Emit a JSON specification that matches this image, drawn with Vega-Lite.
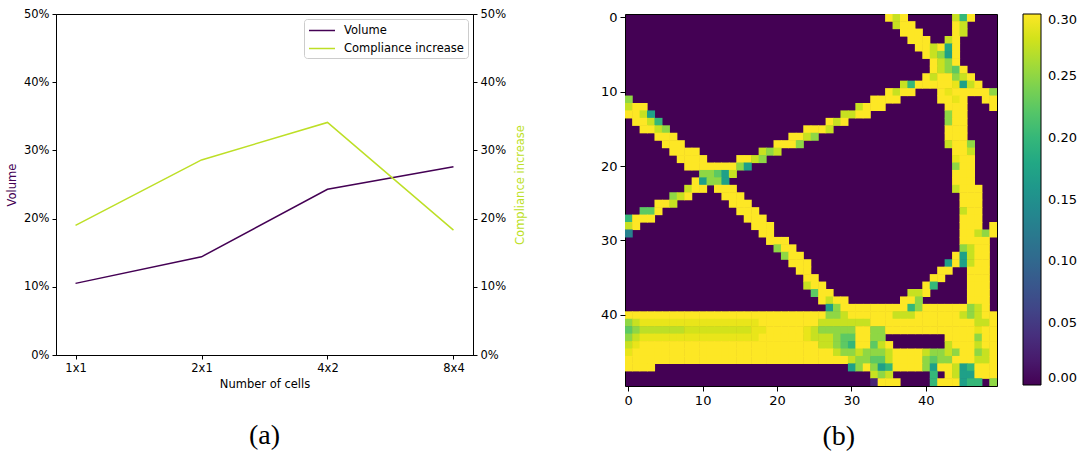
{
"$schema":"https://vega.github.io/schema/vega-lite/v6.json",
"background":"white",
"padding":{"left":5,"top":7,"right":5,"bottom":5},
"config":{"font":"DejaVu Sans","axis":{"grid":false,"domainColor":"#000","tickColor":"#000","labelColor":"#000","titleColor":"#000","titleFontWeight":"normal"},"legend":{"labelColor":"#000"}},
"datasets":{
"lines":[{"cells":"1x1","volume":0.105,"compliance":0.19},{"cells":"2x1","volume":0.144,"compliance":0.286},{"cells":"4x2","volume":0.243,"compliance":0.341},{"cells":"8x4","volume":0.276,"compliance":0.183}],
"cells":[
{"c":35,"r":0,"v":0.3},{"c":36,"r":0,"v":0.275},{"c":37,"r":0,"v":0.3},{"c":44,"r":0,"v":0.275},{"c":45,"r":0,"v":0.2},{"c":46,"r":0,"v":0.3},
{"c":36,"r":1,"v":0.275},{"c":37,"r":1,"v":0.3},{"c":38,"r":1,"v":0.3},{"c":44,"r":1,"v":0.3},{"c":45,"r":1,"v":0.275},
{"c":37,"r":2,"v":0.3},{"c":38,"r":2,"v":0.3},{"c":39,"r":2,"v":0.3},{"c":44,"r":2,"v":0.3},{"c":45,"r":2,"v":0.275},
{"c":38,"r":3,"v":0.3},{"c":39,"r":3,"v":0.3},{"c":40,"r":3,"v":0.3},{"c":43,"r":3,"v":0.275},{"c":44,"r":3,"v":0.3},
{"c":39,"r":4,"v":0.3},{"c":40,"r":4,"v":0.3},{"c":41,"r":4,"v":0.275},{"c":42,"r":4,"v":0.3},{"c":43,"r":4,"v":0.18},{"c":44,"r":4,"v":0.3},
{"c":40,"r":5,"v":0.3},{"c":41,"r":5,"v":0.275},{"c":42,"r":5,"v":0.25},{"c":43,"r":5,"v":0.17},{"c":44,"r":5,"v":0.3},
{"c":41,"r":6,"v":0.3},{"c":42,"r":6,"v":0.275},{"c":43,"r":6,"v":0.25},{"c":44,"r":6,"v":0.3},
{"c":41,"r":7,"v":0.3},{"c":42,"r":7,"v":0.275},{"c":43,"r":7,"v":0.25},{"c":44,"r":7,"v":0.225},{"c":45,"r":7,"v":0.3},
{"c":40,"r":8,"v":0.3},{"c":41,"r":8,"v":0.275},{"c":42,"r":8,"v":0.3},{"c":43,"r":8,"v":0.3},{"c":44,"r":8,"v":0.25},{"c":45,"r":8,"v":0.275},{"c":46,"r":8,"v":0.3},
{"c":37,"r":9,"v":0.275},{"c":38,"r":9,"v":0.2},{"c":39,"r":9,"v":0.3},{"c":40,"r":9,"v":0.3},{"c":41,"r":9,"v":0.3},{"c":42,"r":9,"v":0.3},{"c":43,"r":9,"v":0.3},{"c":44,"r":9,"v":0.29},{"c":45,"r":9,"v":0.17},{"c":46,"r":9,"v":0.275},{"c":47,"r":9,"v":0.3},
{"c":35,"r":10,"v":0.3},{"c":36,"r":10,"v":0.275},{"c":37,"r":10,"v":0.3},{"c":38,"r":10,"v":0.3},{"c":42,"r":10,"v":0.3},{"c":43,"r":10,"v":0.29},{"c":44,"r":10,"v":0.3},{"c":45,"r":10,"v":0.3},{"c":46,"r":10,"v":0.3},{"c":47,"r":10,"v":0.3},{"c":48,"r":10,"v":0.3},{"c":49,"r":10,"v":0.25},
{"c":0,"r":11,"v":0.25},{"c":33,"r":11,"v":0.3},{"c":34,"r":11,"v":0.3},{"c":35,"r":11,"v":0.3},{"c":36,"r":11,"v":0.3},{"c":42,"r":11,"v":0.3},{"c":43,"r":11,"v":0.3},{"c":44,"r":11,"v":0.29},{"c":45,"r":11,"v":0.3},{"c":48,"r":11,"v":0.3},{"c":49,"r":11,"v":0.3},
{"c":0,"r":12,"v":0.275},{"c":1,"r":12,"v":0.3},{"c":2,"r":12,"v":0.3},{"c":31,"r":12,"v":0.275},{"c":32,"r":12,"v":0.3},{"c":33,"r":12,"v":0.3},{"c":34,"r":12,"v":0.3},{"c":43,"r":12,"v":0.3},{"c":44,"r":12,"v":0.3},{"c":45,"r":12,"v":0.3},{"c":49,"r":12,"v":0.3},
{"c":0,"r":13,"v":0.3},{"c":1,"r":13,"v":0.3},{"c":2,"r":13,"v":0.275},{"c":3,"r":13,"v":0.17},{"c":29,"r":13,"v":0.275},{"c":30,"r":13,"v":0.275},{"c":31,"r":13,"v":0.3},{"c":32,"r":13,"v":0.3},{"c":43,"r":13,"v":0.25},{"c":44,"r":13,"v":0.3},{"c":45,"r":13,"v":0.3},
{"c":1,"r":14,"v":0.3},{"c":2,"r":14,"v":0.3},{"c":3,"r":14,"v":0.275},{"c":4,"r":14,"v":0.2},{"c":27,"r":14,"v":0.3},{"c":28,"r":14,"v":0.275},{"c":29,"r":14,"v":0.3},{"c":43,"r":14,"v":0.25},{"c":44,"r":14,"v":0.3},{"c":45,"r":14,"v":0.3},
{"c":2,"r":15,"v":0.3},{"c":3,"r":15,"v":0.3},{"c":4,"r":15,"v":0.275},{"c":5,"r":15,"v":0.25},{"c":24,"r":15,"v":0.3},{"c":25,"r":15,"v":0.3},{"c":26,"r":15,"v":0.3},{"c":27,"r":15,"v":0.275},{"c":43,"r":15,"v":0.3},{"c":44,"r":15,"v":0.3},{"c":45,"r":15,"v":0.3},
{"c":4,"r":16,"v":0.3},{"c":5,"r":16,"v":0.3},{"c":6,"r":16,"v":0.3},{"c":22,"r":16,"v":0.3},{"c":23,"r":16,"v":0.3},{"c":24,"r":16,"v":0.275},{"c":25,"r":16,"v":0.25},{"c":43,"r":16,"v":0.3},{"c":44,"r":16,"v":0.3},{"c":45,"r":16,"v":0.3},
{"c":5,"r":17,"v":0.3},{"c":6,"r":17,"v":0.3},{"c":7,"r":17,"v":0.3},{"c":20,"r":17,"v":0.3},{"c":21,"r":17,"v":0.3},{"c":22,"r":17,"v":0.3},{"c":23,"r":17,"v":0.25},{"c":43,"r":17,"v":0.275},{"c":44,"r":17,"v":0.3},{"c":45,"r":17,"v":0.3},{"c":46,"r":17,"v":0.25},
{"c":6,"r":18,"v":0.3},{"c":7,"r":18,"v":0.3},{"c":8,"r":18,"v":0.3},{"c":9,"r":18,"v":0.3},{"c":18,"r":18,"v":0.275},{"c":19,"r":18,"v":0.25},{"c":20,"r":18,"v":0.275},{"c":44,"r":18,"v":0.3},{"c":45,"r":18,"v":0.3},{"c":46,"r":18,"v":0.275},
{"c":7,"r":19,"v":0.3},{"c":8,"r":19,"v":0.3},{"c":9,"r":19,"v":0.3},{"c":10,"r":19,"v":0.3},{"c":15,"r":19,"v":0.3},{"c":16,"r":19,"v":0.3},{"c":17,"r":19,"v":0.275},{"c":18,"r":19,"v":0.25},{"c":44,"r":19,"v":0.29},{"c":45,"r":19,"v":0.3},{"c":46,"r":19,"v":0.3},
{"c":8,"r":20,"v":0.3},{"c":9,"r":20,"v":0.3},{"c":10,"r":20,"v":0.3},{"c":11,"r":20,"v":0.3},{"c":12,"r":20,"v":0.3},{"c":13,"r":20,"v":0.3},{"c":14,"r":20,"v":0.3},{"c":15,"r":20,"v":0.25},{"c":16,"r":20,"v":0.17},{"c":44,"r":20,"v":0.25},{"c":45,"r":20,"v":0.3},{"c":46,"r":20,"v":0.3},
{"c":10,"r":21,"v":0.25},{"c":11,"r":21,"v":0.25},{"c":12,"r":21,"v":0.225},{"c":13,"r":21,"v":0.17},{"c":14,"r":21,"v":0.275},{"c":44,"r":21,"v":0.3},{"c":45,"r":21,"v":0.3},{"c":46,"r":21,"v":0.3},
{"c":9,"r":22,"v":0.3},{"c":10,"r":22,"v":0.17},{"c":11,"r":22,"v":0.25},{"c":12,"r":22,"v":0.25},{"c":13,"r":22,"v":0.17},{"c":44,"r":22,"v":0.3},{"c":45,"r":22,"v":0.3},{"c":46,"r":22,"v":0.3},
{"c":8,"r":23,"v":0.275},{"c":9,"r":23,"v":0.3},{"c":10,"r":23,"v":0.3},{"c":12,"r":23,"v":0.3},{"c":13,"r":23,"v":0.3},{"c":14,"r":23,"v":0.3},{"c":44,"r":23,"v":0.275},{"c":45,"r":23,"v":0.3},{"c":46,"r":23,"v":0.3},{"c":47,"r":23,"v":0.3},
{"c":6,"r":24,"v":0.25},{"c":7,"r":24,"v":0.275},{"c":8,"r":24,"v":0.3},{"c":13,"r":24,"v":0.3},{"c":14,"r":24,"v":0.3},{"c":15,"r":24,"v":0.3},{"c":45,"r":24,"v":0.3},{"c":46,"r":24,"v":0.3},{"c":47,"r":24,"v":0.3},
{"c":4,"r":25,"v":0.3},{"c":5,"r":25,"v":0.3},{"c":6,"r":25,"v":0.275},{"c":14,"r":25,"v":0.3},{"c":15,"r":25,"v":0.3},{"c":16,"r":25,"v":0.3},{"c":45,"r":25,"v":0.3},{"c":46,"r":25,"v":0.3},{"c":47,"r":25,"v":0.3},
{"c":2,"r":26,"v":0.225},{"c":3,"r":26,"v":0.225},{"c":4,"r":26,"v":0.3},{"c":15,"r":26,"v":0.3},{"c":16,"r":26,"v":0.3},{"c":17,"r":26,"v":0.3},{"c":45,"r":26,"v":0.275},{"c":46,"r":26,"v":0.3},{"c":47,"r":26,"v":0.3},
{"c":0,"r":27,"v":0.2},{"c":1,"r":27,"v":0.3},{"c":2,"r":27,"v":0.3},{"c":3,"r":27,"v":0.3},{"c":16,"r":27,"v":0.3},{"c":17,"r":27,"v":0.3},{"c":18,"r":27,"v":0.3},{"c":45,"r":27,"v":0.3},{"c":46,"r":27,"v":0.3},{"c":47,"r":27,"v":0.3},
{"c":0,"r":28,"v":0.275},{"c":1,"r":28,"v":0.3},{"c":17,"r":28,"v":0.3},{"c":18,"r":28,"v":0.3},{"c":19,"r":28,"v":0.3},{"c":45,"r":28,"v":0.3},{"c":46,"r":28,"v":0.3},{"c":47,"r":28,"v":0.3},{"c":49,"r":28,"v":0.3},
{"c":0,"r":29,"v":0.13},{"c":18,"r":29,"v":0.3},{"c":19,"r":29,"v":0.3},{"c":45,"r":29,"v":0.3},{"c":46,"r":29,"v":0.3},{"c":47,"r":29,"v":0.275},{"c":48,"r":29,"v":0.25},{"c":49,"r":29,"v":0.3},
{"c":19,"r":30,"v":0.3},{"c":20,"r":30,"v":0.3},{"c":21,"r":30,"v":0.3},{"c":45,"r":30,"v":0.3},{"c":46,"r":30,"v":0.3},{"c":47,"r":30,"v":0.3},{"c":48,"r":30,"v":0.3},
{"c":20,"r":31,"v":0.25},{"c":21,"r":31,"v":0.3},{"c":22,"r":31,"v":0.3},{"c":45,"r":31,"v":0.25},{"c":46,"r":31,"v":0.275},{"c":47,"r":31,"v":0.3},{"c":48,"r":31,"v":0.3},
{"c":21,"r":32,"v":0.25},{"c":22,"r":32,"v":0.3},{"c":23,"r":32,"v":0.3},{"c":44,"r":32,"v":0.3},{"c":45,"r":32,"v":0.17},{"c":46,"r":32,"v":0.275},{"c":47,"r":32,"v":0.3},{"c":48,"r":32,"v":0.3},
{"c":22,"r":33,"v":0.3},{"c":23,"r":33,"v":0.3},{"c":24,"r":33,"v":0.3},{"c":43,"r":33,"v":0.17},{"c":44,"r":33,"v":0.3},{"c":45,"r":33,"v":0.17},{"c":46,"r":33,"v":0.275},{"c":47,"r":33,"v":0.3},{"c":48,"r":33,"v":0.3},
{"c":23,"r":34,"v":0.3},{"c":24,"r":34,"v":0.3},{"c":42,"r":34,"v":0.3},{"c":43,"r":34,"v":0.3},{"c":46,"r":34,"v":0.3},{"c":47,"r":34,"v":0.3},{"c":48,"r":34,"v":0.3},
{"c":24,"r":35,"v":0.3},{"c":25,"r":35,"v":0.3},{"c":41,"r":35,"v":0.3},{"c":42,"r":35,"v":0.3},{"c":46,"r":35,"v":0.3},{"c":47,"r":35,"v":0.3},{"c":48,"r":35,"v":0.3},
{"c":24,"r":36,"v":0.275},{"c":25,"r":36,"v":0.3},{"c":26,"r":36,"v":0.3},{"c":40,"r":36,"v":0.3},{"c":41,"r":36,"v":0.2},{"c":46,"r":36,"v":0.3},{"c":47,"r":36,"v":0.3},{"c":48,"r":36,"v":0.3},
{"c":25,"r":37,"v":0.225},{"c":26,"r":37,"v":0.3},{"c":27,"r":37,"v":0.3},{"c":38,"r":37,"v":0.275},{"c":39,"r":37,"v":0.275},{"c":40,"r":37,"v":0.3},{"c":46,"r":37,"v":0.3},{"c":47,"r":37,"v":0.3},{"c":48,"r":37,"v":0.3},
{"c":26,"r":38,"v":0.3},{"c":27,"r":38,"v":0.275},{"c":28,"r":38,"v":0.3},{"c":29,"r":38,"v":0.3},{"c":37,"r":38,"v":0.3},{"c":38,"r":38,"v":0.3},{"c":39,"r":38,"v":0.25},{"c":46,"r":38,"v":0.3},{"c":47,"r":38,"v":0.3},{"c":48,"r":38,"v":0.3},
{"c":27,"r":39,"v":0.17},{"c":28,"r":39,"v":0.25},{"c":29,"r":39,"v":0.3},{"c":30,"r":39,"v":0.3},{"c":31,"r":39,"v":0.3},{"c":32,"r":39,"v":0.3},{"c":33,"r":39,"v":0.3},{"c":34,"r":39,"v":0.3},{"c":35,"r":39,"v":0.3},{"c":36,"r":39,"v":0.3},{"c":37,"r":39,"v":0.3},{"c":38,"r":39,"v":0.2},{"c":39,"r":39,"v":0.25},{"c":40,"r":39,"v":0.3},{"c":41,"r":39,"v":0.3},{"c":42,"r":39,"v":0.3},{"c":43,"r":39,"v":0.3},{"c":44,"r":39,"v":0.3},{"c":45,"r":39,"v":0.3},{"c":46,"r":39,"v":0.25},{"c":47,"r":39,"v":0.275},{"c":48,"r":39,"v":0.3},
{"c":0,"r":40,"v":0.3},{"c":1,"r":40,"v":0.3},{"c":2,"r":40,"v":0.3},{"c":3,"r":40,"v":0.3},{"c":4,"r":40,"v":0.3},{"c":5,"r":40,"v":0.3},{"c":6,"r":40,"v":0.3},{"c":7,"r":40,"v":0.3},{"c":8,"r":40,"v":0.3},{"c":9,"r":40,"v":0.3},{"c":10,"r":40,"v":0.3},{"c":11,"r":40,"v":0.3},{"c":12,"r":40,"v":0.3},{"c":13,"r":40,"v":0.3},{"c":14,"r":40,"v":0.3},{"c":15,"r":40,"v":0.3},{"c":16,"r":40,"v":0.3},{"c":17,"r":40,"v":0.3},{"c":18,"r":40,"v":0.3},{"c":19,"r":40,"v":0.3},{"c":20,"r":40,"v":0.3},{"c":21,"r":40,"v":0.3},{"c":22,"r":40,"v":0.3},{"c":23,"r":40,"v":0.3},{"c":24,"r":40,"v":0.3},{"c":25,"r":40,"v":0.3},{"c":26,"r":40,"v":0.3},{"c":27,"r":40,"v":0.25},{"c":28,"r":40,"v":0.25},{"c":29,"r":40,"v":0.275},{"c":30,"r":40,"v":0.3},{"c":31,"r":40,"v":0.3},{"c":32,"r":40,"v":0.3},{"c":33,"r":40,"v":0.3},{"c":34,"r":40,"v":0.3},{"c":35,"r":40,"v":0.3},{"c":36,"r":40,"v":0.275},{"c":37,"r":40,"v":0.275},{"c":38,"r":40,"v":0.275},{"c":39,"r":40,"v":0.3},{"c":40,"r":40,"v":0.3},{"c":41,"r":40,"v":0.3},{"c":42,"r":40,"v":0.3},{"c":43,"r":40,"v":0.3},{"c":44,"r":40,"v":0.3},{"c":45,"r":40,"v":0.275},{"c":46,"r":40,"v":0.25},{"c":47,"r":40,"v":0.275},{"c":48,"r":40,"v":0.3},{"c":49,"r":40,"v":0.3},
{"c":0,"r":41,"v":0.25},{"c":1,"r":41,"v":0.275},{"c":2,"r":41,"v":0.29},{"c":3,"r":41,"v":0.29},{"c":4,"r":41,"v":0.29},{"c":5,"r":41,"v":0.29},{"c":6,"r":41,"v":0.29},{"c":7,"r":41,"v":0.29},{"c":8,"r":41,"v":0.29},{"c":9,"r":41,"v":0.29},{"c":10,"r":41,"v":0.29},{"c":11,"r":41,"v":0.29},{"c":12,"r":41,"v":0.29},{"c":13,"r":41,"v":0.29},{"c":14,"r":41,"v":0.29},{"c":15,"r":41,"v":0.29},{"c":16,"r":41,"v":0.29},{"c":17,"r":41,"v":0.29},{"c":18,"r":41,"v":0.3},{"c":19,"r":41,"v":0.3},{"c":20,"r":41,"v":0.3},{"c":21,"r":41,"v":0.3},{"c":22,"r":41,"v":0.3},{"c":23,"r":41,"v":0.3},{"c":24,"r":41,"v":0.3},{"c":25,"r":41,"v":0.3},{"c":26,"r":41,"v":0.275},{"c":27,"r":41,"v":0.275},{"c":28,"r":41,"v":0.275},{"c":29,"r":41,"v":0.275},{"c":30,"r":41,"v":0.275},{"c":31,"r":41,"v":0.275},{"c":32,"r":41,"v":0.275},{"c":33,"r":41,"v":0.3},{"c":34,"r":41,"v":0.3},{"c":35,"r":41,"v":0.3},{"c":36,"r":41,"v":0.3},{"c":37,"r":41,"v":0.3},{"c":38,"r":41,"v":0.3},{"c":39,"r":41,"v":0.3},{"c":40,"r":41,"v":0.3},{"c":41,"r":41,"v":0.3},{"c":42,"r":41,"v":0.3},{"c":43,"r":41,"v":0.3},{"c":44,"r":41,"v":0.3},{"c":45,"r":41,"v":0.3},{"c":46,"r":41,"v":0.3},{"c":47,"r":41,"v":0.275},{"c":48,"r":41,"v":0.275},{"c":49,"r":41,"v":0.3},
{"c":0,"r":42,"v":0.225},{"c":1,"r":42,"v":0.25},{"c":2,"r":42,"v":0.27},{"c":3,"r":42,"v":0.27},{"c":4,"r":42,"v":0.27},{"c":5,"r":42,"v":0.27},{"c":6,"r":42,"v":0.27},{"c":7,"r":42,"v":0.27},{"c":8,"r":42,"v":0.28},{"c":9,"r":42,"v":0.28},{"c":10,"r":42,"v":0.28},{"c":11,"r":42,"v":0.28},{"c":12,"r":42,"v":0.28},{"c":13,"r":42,"v":0.28},{"c":14,"r":42,"v":0.28},{"c":15,"r":42,"v":0.28},{"c":16,"r":42,"v":0.28},{"c":17,"r":42,"v":0.29},{"c":18,"r":42,"v":0.29},{"c":19,"r":42,"v":0.3},{"c":20,"r":42,"v":0.3},{"c":21,"r":42,"v":0.3},{"c":22,"r":42,"v":0.3},{"c":23,"r":42,"v":0.3},{"c":24,"r":42,"v":0.29},{"c":25,"r":42,"v":0.275},{"c":26,"r":42,"v":0.25},{"c":27,"r":42,"v":0.25},{"c":28,"r":42,"v":0.25},{"c":29,"r":42,"v":0.25},{"c":30,"r":42,"v":0.25},{"c":31,"r":42,"v":0.3},{"c":32,"r":42,"v":0.3},{"c":33,"r":42,"v":0.25},{"c":34,"r":42,"v":0.25},{"c":35,"r":42,"v":0.3},{"c":36,"r":42,"v":0.3},{"c":37,"r":42,"v":0.3},{"c":38,"r":42,"v":0.3},{"c":39,"r":42,"v":0.3},{"c":40,"r":42,"v":0.3},{"c":41,"r":42,"v":0.3},{"c":42,"r":42,"v":0.3},{"c":43,"r":42,"v":0.3},{"c":44,"r":42,"v":0.3},{"c":45,"r":42,"v":0.3},{"c":46,"r":42,"v":0.3},{"c":47,"r":42,"v":0.29},{"c":48,"r":42,"v":0.3},{"c":49,"r":42,"v":0.3},
{"c":0,"r":43,"v":0.25},{"c":1,"r":43,"v":0.275},{"c":2,"r":43,"v":0.29},{"c":3,"r":43,"v":0.29},{"c":4,"r":43,"v":0.29},{"c":5,"r":43,"v":0.29},{"c":6,"r":43,"v":0.29},{"c":7,"r":43,"v":0.29},{"c":8,"r":43,"v":0.29},{"c":9,"r":43,"v":0.29},{"c":10,"r":43,"v":0.29},{"c":11,"r":43,"v":0.29},{"c":12,"r":43,"v":0.29},{"c":13,"r":43,"v":0.29},{"c":14,"r":43,"v":0.29},{"c":15,"r":43,"v":0.29},{"c":16,"r":43,"v":0.29},{"c":17,"r":43,"v":0.29},{"c":18,"r":43,"v":0.3},{"c":19,"r":43,"v":0.3},{"c":20,"r":43,"v":0.3},{"c":21,"r":43,"v":0.3},{"c":22,"r":43,"v":0.3},{"c":23,"r":43,"v":0.3},{"c":24,"r":43,"v":0.29},{"c":25,"r":43,"v":0.275},{"c":26,"r":43,"v":0.275},{"c":27,"r":43,"v":0.275},{"c":28,"r":43,"v":0.25},{"c":29,"r":43,"v":0.225},{"c":30,"r":43,"v":0.225},{"c":31,"r":43,"v":0.3},{"c":32,"r":43,"v":0.3},{"c":33,"r":43,"v":0.25},{"c":34,"r":43,"v":0.25},{"c":43,"r":43,"v":0.3},{"c":44,"r":43,"v":0.3},{"c":45,"r":43,"v":0.3},{"c":46,"r":43,"v":0.3},{"c":47,"r":43,"v":0.25},{"c":48,"r":43,"v":0.3},{"c":49,"r":43,"v":0.3},
{"c":0,"r":44,"v":0.275},{"c":1,"r":44,"v":0.29},{"c":2,"r":44,"v":0.3},{"c":3,"r":44,"v":0.3},{"c":4,"r":44,"v":0.3},{"c":5,"r":44,"v":0.3},{"c":6,"r":44,"v":0.3},{"c":7,"r":44,"v":0.3},{"c":8,"r":44,"v":0.3},{"c":9,"r":44,"v":0.3},{"c":10,"r":44,"v":0.3},{"c":11,"r":44,"v":0.3},{"c":12,"r":44,"v":0.3},{"c":13,"r":44,"v":0.3},{"c":14,"r":44,"v":0.3},{"c":15,"r":44,"v":0.3},{"c":16,"r":44,"v":0.3},{"c":17,"r":44,"v":0.3},{"c":18,"r":44,"v":0.3},{"c":19,"r":44,"v":0.3},{"c":20,"r":44,"v":0.3},{"c":21,"r":44,"v":0.3},{"c":22,"r":44,"v":0.3},{"c":23,"r":44,"v":0.3},{"c":24,"r":44,"v":0.3},{"c":25,"r":44,"v":0.3},{"c":26,"r":44,"v":0.275},{"c":27,"r":44,"v":0.275},{"c":28,"r":44,"v":0.25},{"c":29,"r":44,"v":0.225},{"c":30,"r":44,"v":0.2},{"c":31,"r":44,"v":0.3},{"c":32,"r":44,"v":0.3},{"c":33,"r":44,"v":0.225},{"c":34,"r":44,"v":0.275},{"c":35,"r":44,"v":0.3},{"c":43,"r":44,"v":0.275},{"c":44,"r":44,"v":0.3},{"c":45,"r":44,"v":0.3},{"c":46,"r":44,"v":0.3},{"c":47,"r":44,"v":0.275},{"c":48,"r":44,"v":0.3},{"c":49,"r":44,"v":0.3},
{"c":0,"r":45,"v":0.29},{"c":1,"r":45,"v":0.3},{"c":2,"r":45,"v":0.3},{"c":3,"r":45,"v":0.3},{"c":4,"r":45,"v":0.3},{"c":5,"r":45,"v":0.3},{"c":6,"r":45,"v":0.3},{"c":7,"r":45,"v":0.3},{"c":8,"r":45,"v":0.3},{"c":9,"r":45,"v":0.3},{"c":10,"r":45,"v":0.3},{"c":11,"r":45,"v":0.3},{"c":12,"r":45,"v":0.3},{"c":13,"r":45,"v":0.3},{"c":14,"r":45,"v":0.3},{"c":15,"r":45,"v":0.3},{"c":16,"r":45,"v":0.3},{"c":17,"r":45,"v":0.3},{"c":18,"r":45,"v":0.3},{"c":19,"r":45,"v":0.3},{"c":20,"r":45,"v":0.3},{"c":21,"r":45,"v":0.3},{"c":22,"r":45,"v":0.3},{"c":23,"r":45,"v":0.3},{"c":24,"r":45,"v":0.3},{"c":25,"r":45,"v":0.3},{"c":26,"r":45,"v":0.3},{"c":27,"r":45,"v":0.3},{"c":28,"r":45,"v":0.275},{"c":29,"r":45,"v":0.25},{"c":30,"r":45,"v":0.25},{"c":31,"r":45,"v":0.275},{"c":32,"r":45,"v":0.25},{"c":33,"r":45,"v":0.25},{"c":34,"r":45,"v":0.25},{"c":35,"r":45,"v":0.275},{"c":36,"r":45,"v":0.3},{"c":37,"r":45,"v":0.3},{"c":38,"r":45,"v":0.3},{"c":39,"r":45,"v":0.3},{"c":40,"r":45,"v":0.275},{"c":41,"r":45,"v":0.25},{"c":42,"r":45,"v":0.25},{"c":43,"r":45,"v":0.275},{"c":44,"r":45,"v":0.25},{"c":45,"r":45,"v":0.3},{"c":46,"r":45,"v":0.3},{"c":47,"r":45,"v":0.25},{"c":48,"r":45,"v":0.275},{"c":49,"r":45,"v":0.3},
{"c":0,"r":46,"v":0.3},{"c":1,"r":46,"v":0.3},{"c":2,"r":46,"v":0.3},{"c":3,"r":46,"v":0.3},{"c":4,"r":46,"v":0.3},{"c":5,"r":46,"v":0.3},{"c":6,"r":46,"v":0.3},{"c":7,"r":46,"v":0.3},{"c":8,"r":46,"v":0.3},{"c":9,"r":46,"v":0.3},{"c":10,"r":46,"v":0.3},{"c":11,"r":46,"v":0.3},{"c":12,"r":46,"v":0.3},{"c":13,"r":46,"v":0.3},{"c":14,"r":46,"v":0.3},{"c":15,"r":46,"v":0.3},{"c":16,"r":46,"v":0.3},{"c":17,"r":46,"v":0.3},{"c":18,"r":46,"v":0.3},{"c":19,"r":46,"v":0.3},{"c":20,"r":46,"v":0.3},{"c":21,"r":46,"v":0.3},{"c":22,"r":46,"v":0.3},{"c":23,"r":46,"v":0.3},{"c":24,"r":46,"v":0.3},{"c":25,"r":46,"v":0.3},{"c":26,"r":46,"v":0.3},{"c":27,"r":46,"v":0.3},{"c":28,"r":46,"v":0.3},{"c":29,"r":46,"v":0.3},{"c":30,"r":46,"v":0.275},{"c":31,"r":46,"v":0.25},{"c":32,"r":46,"v":0.25},{"c":33,"r":46,"v":0.225},{"c":34,"r":46,"v":0.225},{"c":35,"r":46,"v":0.275},{"c":36,"r":46,"v":0.3},{"c":37,"r":46,"v":0.3},{"c":38,"r":46,"v":0.3},{"c":39,"r":46,"v":0.3},{"c":40,"r":46,"v":0.25},{"c":41,"r":46,"v":0.225},{"c":42,"r":46,"v":0.25},{"c":43,"r":46,"v":0.25},{"c":44,"r":46,"v":0.3},{"c":45,"r":46,"v":0.3},{"c":46,"r":46,"v":0.3},{"c":47,"r":46,"v":0.275},{"c":48,"r":46,"v":0.275},{"c":49,"r":46,"v":0.3},
{"c":0,"r":47,"v":0.3},{"c":1,"r":47,"v":0.3},{"c":2,"r":47,"v":0.3},{"c":3,"r":47,"v":0.3},{"c":30,"r":47,"v":0.17},{"c":31,"r":47,"v":0.25},{"c":32,"r":47,"v":0.3},{"c":33,"r":47,"v":0.25},{"c":34,"r":47,"v":0.17},{"c":35,"r":47,"v":0.2},{"c":36,"r":47,"v":0.3},{"c":37,"r":47,"v":0.3},{"c":38,"r":47,"v":0.3},{"c":39,"r":47,"v":0.3},{"c":40,"r":47,"v":0.25},{"c":41,"r":47,"v":0.17},{"c":42,"r":47,"v":0.3},{"c":43,"r":47,"v":0.3},{"c":44,"r":47,"v":0.275},{"c":45,"r":47,"v":0.17},{"c":46,"r":47,"v":0.2},{"c":47,"r":47,"v":0.3},{"c":48,"r":47,"v":0.3},{"c":49,"r":47,"v":0.3},
{"c":33,"r":48,"v":0.275},{"c":34,"r":48,"v":0.25},{"c":35,"r":48,"v":0.275},{"c":41,"r":48,"v":0.2},{"c":43,"r":48,"v":0.3},{"c":44,"r":48,"v":0.275},{"c":45,"r":48,"v":0.17},{"c":46,"r":48,"v":0.17},{"c":47,"r":48,"v":0.3},{"c":48,"r":48,"v":0.3},{"c":49,"r":48,"v":0.3},
{"c":33,"r":49,"v":0.03},{"c":34,"r":49,"v":0.3},{"c":35,"r":49,"v":0.3},{"c":36,"r":49,"v":0.3},{"c":41,"r":49,"v":0.2},{"c":42,"r":49,"v":0.3},{"c":43,"r":49,"v":0.3},{"c":44,"r":49,"v":0.3},{"c":45,"r":49,"v":0.17},{"c":46,"r":49,"v":0.2},{"c":47,"r":49,"v":0.2},{"c":49,"r":49,"v":0.25}
]},
"hconcat":[
{
"width":417,"height":341,
"data":{"name":"lines"},
"view":{"stroke":"#000","strokeWidth":1,"fill":"white"},
"title":{"text":"(a)","orient":"bottom","font":"Liberation Serif","fontSize":28,"fontWeight":"normal","color":"#000","offset":32,"frame":"group","anchor":"middle"},
"encoding":{"x":{"field":"cells","type":"ordinal","sort":null,"scale":{"type":"point","padding":0.155},"axis":{"title":"Number of cells","labelAngle":0,"labelFontSize":11.5,"titleFontSize":11.5,"tickSize":4,"labelPadding":3,"titlePadding":5}}},
"layer":[
{"mark":{"type":"line","strokeWidth":1.5},"encoding":{"y":{"field":"volume","type":"quantitative","scale":{"domain":[0,0.5],"nice":false},"axis":{"orient":"left","title":"Volume","titleColor":"#440154","format":".0%","values":[0,0.1,0.2,0.3,0.4,0.5],"labelFontSize":11.5,"titleFontSize":11.5,"tickSize":4,"labelPadding":3,"titlePadding":6}},"color":{"datum":"Volume","type":"nominal","scale":{"domain":["Volume","Compliance increase"],"range":["#440154","#bddf26"]},"legend":{"title":null,"orient":"top-right","offset":5,"strokeColor":"#cccccc","fillColor":"#ffffff","padding":4,"cornerRadius":3,"symbolType":"M-1,0H3","symbolSize":169,"symbolStrokeWidth":1.5,"labelFontSize":11.5,"labelOffset":21,"rowPadding":5}}}},
{"mark":{"type":"line","strokeWidth":1.5},"encoding":{"y":{"field":"compliance","type":"quantitative","scale":{"domain":[0,0.5],"nice":false},"axis":{"orient":"right","title":"Compliance increase","titleColor":"#bddf26","titleAngle":270,"titleBaseline":"top","format":".0%","values":[0,0.1,0.2,0.3,0.4,0.5],"labelFontSize":11.5,"titleFontSize":11.5,"tickSize":4,"labelPadding":3,"titlePadding":9}},"color":{"datum":"Compliance increase","type":"nominal"}}}
],
"resolve":{"scale":{"y":"independent"}}
},
{
"width":372,"height":372,
"data":{"name":"cells"},
"view":{"fill":"#440154","stroke":"#000","strokeWidth":1},
"title":{"text":"(b)","orient":"bottom","font":"Liberation Serif","fontSize":28,"fontWeight":"normal","color":"#000","offset":16,"frame":"bounds","anchor":"middle"},
"mark":{"type":"rect","width":{"band":1.08},"height":{"band":1.08},"clip":true},
"encoding":{
"x":{"field":"c","type":"ordinal","scale":{"domain":[0,1,2,3,4,5,6,7,8,9,10,11,12,13,14,15,16,17,18,19,20,21,22,23,24,25,26,27,28,29,30,31,32,33,34,35,36,37,38,39,40,41,42,43,44,45,46,47,48,49],"paddingInner":0,"paddingOuter":0},"axis":{"values":[0,10,20,30,40],"labelAngle":0,"title":null,"domain":false,"tickSize":5,"labelFontSize":13,"labelPadding":3}},
"y":{"field":"r","type":"ordinal","scale":{"domain":[0,1,2,3,4,5,6,7,8,9,10,11,12,13,14,15,16,17,18,19,20,21,22,23,24,25,26,27,28,29,30,31,32,33,34,35,36,37,38,39,40,41,42,43,44,45,46,47,48,49],"paddingInner":0,"paddingOuter":0},"axis":{"values":[0,10,20,30,40],"title":null,"domain":false,"tickSize":5,"labelFontSize":13,"labelPadding":3}},
"color":{"field":"v","type":"quantitative","scale":{"scheme":"viridis","domain":[0,0.3]},"legend":{"type":"gradient","title":null,"orient":"right","offset":26,"direction":"vertical","gradientLength":371,"gradientThickness":18,"gradientStrokeColor":"#000","gradientStrokeWidth":1,"values":[0,0.05,0.1,0.15,0.2,0.25,0.3],"format":".2f","labelFontSize":13,"labelOffset":7,"labelOverlap":false,"labelBaseline":"middle","padding":0}}
}
}
],
"spacing":152,
"bounds":"flush",
"resolve":{"scale":{"color":"independent"},"legend":{"color":"independent"}}
}
